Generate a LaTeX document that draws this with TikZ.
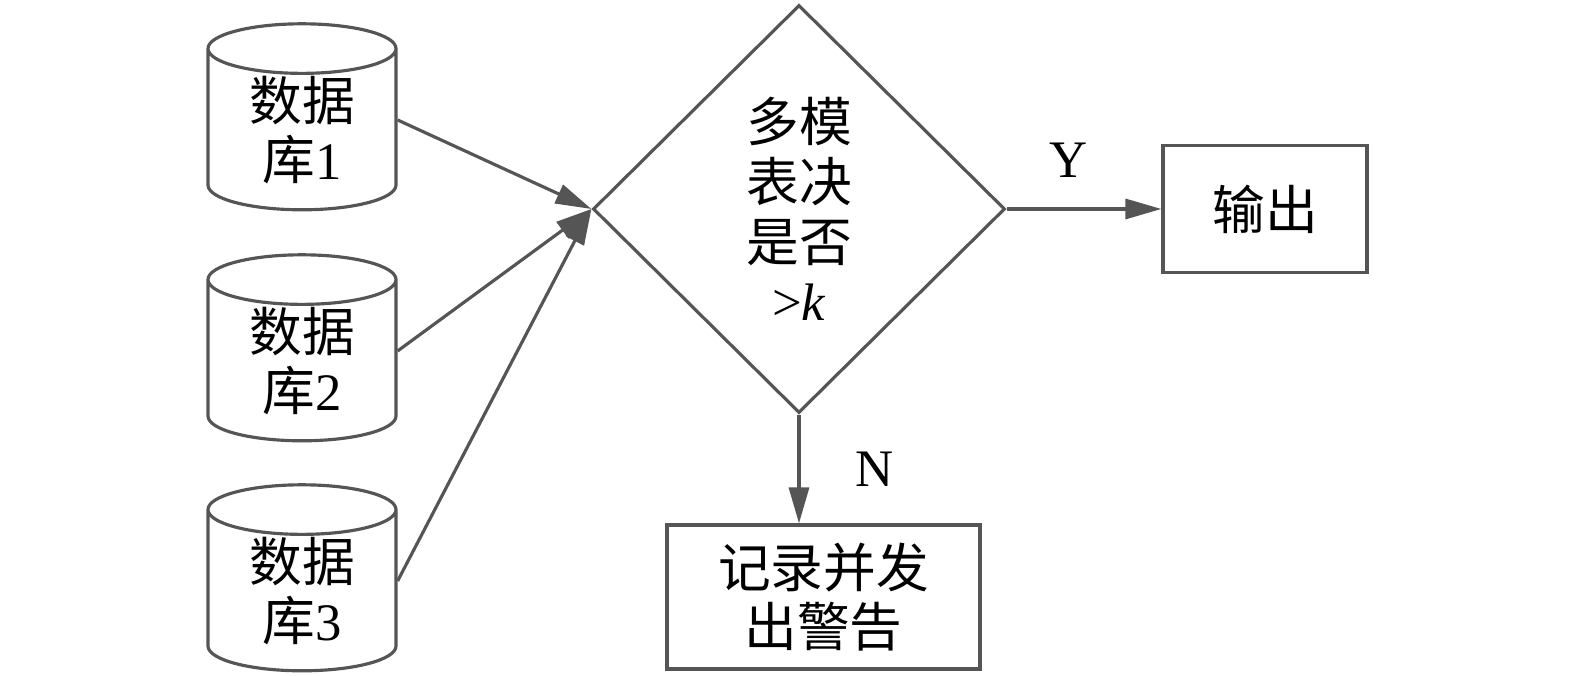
\documentclass[tikz,border=0pt]{standalone}
\usepackage{fontspec}
\setmainfont{Liberation Serif}
\newfontfamily\cjk{Noto Sans CJK SC}
\usetikzlibrary{arrows.meta,positioning,shapes.geometric,calc}
\definecolor{linegray}{RGB}{85,85,85}
\tikzset{
  txt/.style={font=\fontsize{15}{17}\selectfont, align=center, inner sep=0pt},
  dbcyl/.style={txt, cylinder, shape border rotate=90, aspect=0.47, draw=linegray, line width=0.9pt, minimum width=1.88cm, minimum height=1.86cm},
  decide/.style={txt, diamond, draw=linegray, line width=0.9pt, minimum width=4.12cm, minimum height=4.08cm},
  stepbox/.style={txt, rectangle, draw=linegray, line width=0.9pt},
  flow/.style={draw=linegray, line width=0.9pt, -{Triangle[length=3.6mm, width=2mm]}}
}

\begin{document}
\begin{tikzpicture}
          \useasboundingbox (0, 0) rectangle (15.75, 6.76);

          \node[dbcyl] (db1) at (3.02, 5.46) {{\cjk 数据}\\{\cjk 库}1};
          \node[dbcyl] (db2) at (3.02, 3.15) {{\cjk 数据}\\{\cjk 库}2};
          \node[dbcyl] (db3) at (3.02, 0.85) {{\cjk 数据}\\{\cjk 库}3};

          \node[decide] (vote) at (7.99, 4.67) {{\cjk 多模}\\{\cjk 表决}\\{\cjk 是否}\\>\textit{k}};

          \node[stepbox, minimum width=2.04cm, minimum height=1.27cm] (out) at (12.65, 4.67) {\cjk 输出};
          \node[stepbox, minimum width=3.13cm, minimum height=1.44cm] (warn) at (8.235, 0.79) {{\cjk 记录并发}\\{\cjk 出警告}};

          \draw[flow] ([yshift=1mm]db1.east) -- (vote.west);
          \draw[flow] ([yshift=1mm]db2.east) -- (vote.west);
          \draw[flow] ([yshift=1mm]db3.east) -- (vote.west);

          \draw[flow] (vote.east) -- node[txt, pos=0.4, above=0.3cm] (yes) {Y} (out.west);
          \draw[flow] (vote.south) -- node[txt, right=0.55cm] (no) {N} (vote.south |- warn.north);
        \end{tikzpicture}
\end{document}
